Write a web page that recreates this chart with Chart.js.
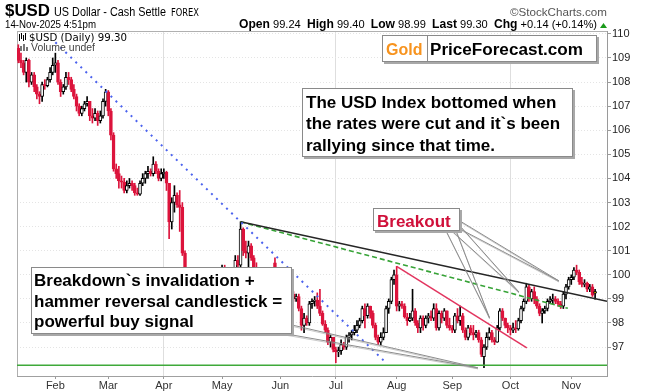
<!DOCTYPE html>
<html><head><meta charset="utf-8">
<script src="https://cdn.jsdelivr.net/npm/chart.js@4.4.1/dist/chart.umd.min.js"></script>
<style>html,body{margin:0;padding:0;background:#fff;}canvas{display:block;}</style>
</head><body>
<canvas id="c" width="646" height="392"></canvas>
<script>
// ---- categories: trading days 2025 (MM-DD) ----
const dates = [
"01-14","01-15","01-16","01-17","01-20","01-21","01-22","01-23","01-24","01-27","01-28","01-29","01-30","01-31",
"02-03","02-04","02-05","02-06","02-07","02-10","02-11","02-12","02-13","02-14","02-17","02-18","02-19","02-20","02-21","02-24","02-25","02-26","02-27","02-28",
"03-03","03-04","03-05","03-06","03-07","03-10","03-11","03-12","03-13","03-14","03-17","03-18","03-19","03-20","03-21","03-24","03-25","03-26","03-27","03-28","03-31",
"04-01","04-02","04-03","04-04","04-07","04-08","04-09","04-10","04-11","04-14","04-15","04-16","04-17","04-18","04-21","04-22","04-23","04-24","04-25","04-28","04-29","04-30",
"05-01","05-02","05-05","05-06","05-07","05-08","05-09","05-12","05-13","05-14","05-15","05-16","05-19","05-20","05-21","05-22","05-23","05-26","05-27","05-28","05-29","05-30",
"06-02","06-03","06-04","06-05","06-06","06-09","06-10","06-11","06-12","06-13","06-16","06-17","06-18","06-19","06-20","06-23","06-24","06-25","06-26","06-27","06-30",
"07-01","07-02","07-03","07-04","07-07","07-08","07-09","07-10","07-11","07-14","07-15","07-16","07-17","07-18","07-21","07-22","07-23","07-24","07-25","07-28","07-29","07-30","07-31",
"08-01","08-04","08-05","08-06","08-07","08-08","08-11","08-12","08-13","08-14","08-15","08-18","08-19","08-20","08-21","08-22","08-25","08-26","08-27","08-28","08-29",
"09-01","09-02","09-03","09-04","09-05","09-08","09-09","09-10","09-11","09-12","09-15","09-16","09-17","09-18","09-19","09-22","09-23","09-24","09-25","09-26","09-29","09-30",
"10-01","10-02","10-03","10-06","10-07","10-08","10-09","10-10","10-13","10-14","10-15","10-16","10-17","10-20","10-21","10-22","10-23","10-24","10-27","10-28","10-29","10-30","10-31",
"11-03","11-04","11-05","11-06","11-07","11-10","11-11","11-12","11-13","11-14"];

// ---- series: daily OHLC ----
const opens = [
109.40,108.90,108.80,108.40,108.90,108.00,108.30,107.80,107.50,107.40,
107.90,107.85,108.10,108.40,108.70,108.80,108.00,107.60,107.80,108.20,
108.10,107.70,107.40,107.00,106.70,106.90,107.10,107.20,106.60,106.50,
106.70,106.40,106.60,107.20,107.60,106.80,105.80,104.40,104.20,103.90,
103.85,103.50,103.70,103.80,103.70,103.40,103.35,103.80,104.00,104.20,
104.30,104.20,104.60,104.30,104.00,104.20,104.25,103.80,102.20,103.00,
103.30,102.90,102.80,100.90,100.10,99.60,100.20,99.40,99.40,99.30,
98.30,98.90,99.80,99.30,99.60,99.00,99.20,99.50,100.30,100.00,
99.80,99.30,99.90,100.60,100.40,101.90,101.00,100.90,101.20,100.70,
100.30,100.00,99.60,99.90,99.10,99.00,99.50,100.50,99.30,99.40,
98.70,99.20,98.80,98.70,99.20,99.00,99.10,98.60,97.90,98.20,
98.00,98.80,98.90,98.95,98.70,98.40,97.95,97.70,97.20,97.40,
96.90,96.80,96.85,97.10,97.00,97.40,97.50,97.60,97.70,97.90,
98.10,98.60,98.30,98.70,98.40,97.90,97.40,97.20,97.40,97.60,
98.60,98.90,99.80,100.00,98.70,98.80,98.70,98.25,98.10,98.20,
98.50,98.00,97.80,98.20,97.90,98.20,98.30,98.20,98.60,97.80,
98.40,98.20,98.50,97.90,97.80,97.70,98.30,98.10,98.30,97.70,
97.40,97.80,97.60,97.50,97.60,97.30,96.60,97.00,97.40,97.60,
97.30,97.20,97.80,98.50,98.20,97.90,97.80,97.70,97.80,97.75,
98.10,98.60,98.90,99.50,99.00,99.30,99.00,98.70,98.40,98.50,
98.60,98.90,98.95,99.00,98.90,98.80,98.70,99.20,99.50,99.80,
99.90,100.20,100.10,99.70,99.60,99.65,99.40,99.50,99.24];
const highs = [
109.55,109.20,108.90,109.00,108.95,108.40,108.40,107.90,107.60,108.00,
108.10,108.20,108.60,109.00,109.20,108.90,108.10,107.90,108.40,108.40,
108.20,107.90,107.50,107.10,107.00,107.20,107.40,107.20,106.90,106.90,
106.80,106.80,107.30,107.70,107.65,106.90,105.90,104.60,104.50,104.10,
104.00,103.90,104.00,103.90,103.80,103.60,103.90,104.20,104.30,104.50,
104.40,104.90,104.70,104.40,104.40,104.40,104.30,103.80,103.20,103.70,
103.40,103.50,103.00,101.00,100.30,100.30,100.20,99.60,99.50,99.40,
99.00,100.00,99.90,99.80,99.70,99.30,99.70,100.40,100.40,100.10,
99.90,100.00,100.80,100.80,102.20,101.95,101.40,101.40,101.30,100.80,
100.50,100.10,100.00,100.00,99.40,99.60,100.10,100.70,99.60,99.50,
99.40,99.30,99.00,99.40,99.30,99.20,99.20,98.70,98.40,98.30,
98.90,99.00,99.10,99.25,99.40,98.50,98.10,97.80,97.50,97.40,
97.00,97.00,97.30,97.20,97.50,97.60,97.70,97.90,98.10,98.20,
98.70,98.80,98.80,98.70,98.50,98.00,97.50,97.60,97.80,98.70,
99.00,99.90,100.20,100.35,98.90,98.90,98.80,98.40,98.40,99.40,
98.60,98.10,98.30,98.30,98.30,98.40,98.50,98.80,98.80,98.50,
98.50,98.60,98.50,98.20,97.90,98.40,98.60,98.70,98.40,97.80,
97.90,97.90,97.90,97.70,97.70,97.40,97.10,97.60,97.80,97.70,
97.40,97.90,98.60,98.60,98.20,98.00,97.90,98.00,98.10,98.20,
98.70,99.00,99.65,99.60,99.40,99.50,99.10,98.80,98.60,98.70,
99.00,99.10,99.20,99.10,99.00,98.90,99.30,99.60,99.90,100.00,
100.30,100.40,100.20,99.90,99.80,99.70,99.60,99.60,99.40];
const lows = [
108.80,108.60,108.30,108.00,107.80,107.90,107.60,107.30,107.10,107.20,
107.70,107.80,108.00,108.30,108.40,107.90,107.40,107.50,107.70,107.90,
107.60,107.30,106.80,106.60,106.60,106.80,107.00,106.40,106.30,106.40,
106.20,106.30,106.50,107.00,106.60,105.60,104.30,104.00,103.60,103.60,
103.40,103.40,103.60,103.50,103.30,103.30,103.30,103.70,103.80,104.00,
104.10,104.10,104.20,103.90,103.90,104.00,103.50,101.50,101.90,102.60,
102.80,101.80,100.80,99.60,99.20,99.50,99.20,99.10,99.20,97.90,
98.20,98.90,99.20,99.10,98.90,98.90,99.00,99.40,99.80,99.60,
99.20,99.20,99.80,100.20,100.30,100.80,100.70,100.30,100.60,100.10,
99.80,99.40,99.30,99.00,98.90,98.90,99.40,99.20,99.10,98.60,
98.60,98.70,98.40,98.60,98.90,98.90,98.50,97.70,97.60,97.90,
97.90,98.60,98.70,98.60,98.30,97.90,97.60,97.10,97.00,96.80,
96.35,96.60,96.70,96.90,96.90,97.20,97.30,97.50,97.60,97.80,
98.00,97.80,98.20,98.20,97.80,97.30,97.10,97.10,97.30,97.60,
98.40,98.80,99.60,98.50,98.50,98.60,98.20,97.90,98.05,98.10,
97.90,97.60,97.60,97.70,97.80,98.00,98.10,98.10,97.70,97.70,
98.00,98.10,97.80,97.70,97.60,97.60,98.00,97.90,97.60,97.30,
97.30,97.50,97.30,97.40,97.20,96.60,96.15,96.90,97.30,97.20,
97.10,97.20,97.70,98.10,97.80,97.60,97.50,97.60,97.60,97.70,
98.00,98.50,98.80,98.90,98.90,98.80,98.60,98.30,98.00,98.40,
98.50,98.80,98.80,98.80,98.70,98.60,98.60,99.00,99.40,99.60,
99.80,100.00,99.60,99.50,99.50,99.30,99.30,99.10,98.99];
const closes = [
108.90,108.80,108.40,108.90,108.00,108.30,107.80,107.50,107.40,107.90,
107.85,108.10,108.40,108.70,108.80,108.00,107.60,107.80,108.20,108.10,
107.70,107.40,107.00,106.70,106.90,107.10,107.20,106.60,106.50,106.70,
106.40,106.60,107.20,107.60,106.80,105.80,104.40,104.20,103.90,103.85,
103.50,103.70,103.80,103.70,103.40,103.35,103.80,104.00,104.20,104.30,
104.20,104.60,104.30,104.00,104.20,104.25,103.80,102.20,103.00,103.30,
102.90,102.80,100.90,100.10,99.60,100.20,99.40,99.40,99.30,98.30,
98.90,99.80,99.30,99.60,99.00,99.20,99.50,100.30,100.00,99.80,
99.30,99.90,100.60,100.40,101.90,101.00,100.90,101.20,100.70,100.30,
100.00,99.60,99.90,99.10,99.00,99.50,99.90,99.30,99.40,98.70,
99.20,98.80,98.70,99.20,99.00,99.10,98.60,97.90,98.20,98.00,
98.80,98.90,98.95,98.70,98.40,97.95,97.70,97.20,97.40,96.90,
96.80,96.85,97.10,97.00,97.40,97.50,97.60,97.70,97.90,98.10,
98.60,98.30,98.70,98.40,97.90,97.40,97.20,97.40,97.60,98.60,
98.90,99.80,100.00,98.70,98.80,98.70,98.25,98.10,98.20,98.50,
98.00,97.80,98.20,97.90,98.20,98.30,98.20,98.60,97.80,98.40,
98.20,98.50,97.90,97.80,97.70,98.30,98.10,98.30,97.70,97.40,
97.80,97.60,97.50,97.60,97.30,96.70,97.00,97.40,97.60,97.30,
97.20,97.80,98.50,98.20,97.90,97.80,97.70,97.80,97.75,98.10,
98.60,98.90,99.50,99.00,99.30,99.00,98.70,98.40,98.50,98.60,
98.90,98.95,99.00,98.90,98.80,98.70,99.20,99.50,99.80,99.90,
100.20,100.10,99.70,99.60,99.65,99.40,99.50,99.16,99.30];

// ---- tick labels ----
const monthTickLabels = ["Feb","Mar","Apr","May","Jun","Jul","Aug","Sep","Oct","Nov"];
const monthTickNums   = ["02","03","04","05","06","07","08","09","10","11"];
const gridMonths = ["Apr","Jul","Oct"];
const yTickValues = [97,98,99,100,101,102,103,104,105,106,107,108,109,110];

// ---- drawn trend lines (x = trading-day index, y = index value) ----
const blueTrendX  = [14, 138.2],   blueTrendY  = [109.65, 96.43];
const blackTrendX = [84, 222.5],   blackTrendY = [102.2, 98.9];
const greenTrendX = [84, 207.7],   greenTrendY = [102.2, 98.61];
const redTrendX   = [143, 192.2],  redTrendY   = [100.35, 96.97];
const supportX    = [-0.5, 222.5], supportY    = [96.25, 96.25];

// callout targets (index, value)
const breakdownTarget = [173.7, 96.14];
const breakoutTargets = [[178.1, 98.22], [189.2, 99.29], [204.3, 99.75]];

const monthTickIdx = monthTickNums.map(m => dates.findIndex(d => d.slice(0,2) === m));
const N = dates.length;
const RED = '#dc143c', BLK = '#000000';
const lineColors = closes.map((c, i) => (i === 0 ? c >= opens[i] : c >= closes[i-1]) ? BLK : RED);
const fillColors = closes.map((c, i) => {
  if (i === N - 1) return '#ffe600';
  return c > opens[i] ? '#ffffff' : lineColors[i];
});

const FONT = "'Liberation Sans', Arial, sans-serif";
Chart.defaults.font.family = FONT;

const mk = (xs, ys) => xs.map((x, k) => ({x, y: ys[k]}));

function fitText(ctx, s, x, y, font, color, w, align) {
  ctx.save(); ctx.font = font; ctx.fillStyle = color; ctx.textBaseline = 'alphabetic';
  const nat = ctx.measureText(s).width;
  const k = w ? w / nat : 1;
  const x0 = align === 'right' ? x - (w || nat) : x;
  ctx.translate(x0, y); ctx.scale(k, 1); ctx.textAlign = 'left';
  ctx.fillText(s, 0, 0); ctx.restore();
}
function rich(ctx, segs, x, y, w) {
  ctx.save(); let tot = 0;
  segs.forEach(s => { ctx.font = s[1]; tot += ctx.measureText(s[0]).width; });
  const k = w ? w / tot : 1;
  ctx.translate(x, y); ctx.scale(k, 1); ctx.textBaseline = 'alphabetic'; ctx.textAlign = 'left';
  let cx = 0;
  segs.forEach(s => { ctx.font = s[1]; ctx.fillStyle = s[2]; ctx.fillText(s[0], cx, 0); cx += ctx.measureText(s[0]).width; });
  ctx.restore();
}
function box(ctx, x, y, w, h) {
  ctx.save();
  ctx.fillStyle = '#a8a8a8'; ctx.fillRect(x + 2, y + 2, w, h);
  ctx.fillStyle = '#ffffff'; ctx.fillRect(x, y, w, h);
  ctx.strokeStyle = '#8a8a8a'; ctx.lineWidth = 1; ctx.strokeRect(x + 0.5, y + 0.5, w - 1, h - 1);
  ctx.restore();
}
function wedge(ctx, b1, b2, tip) {
  ctx.save();
  ctx.strokeStyle = '#8c8c8c'; ctx.lineWidth = 1;
  ctx.beginPath(); ctx.moveTo(b1[0], b1[1]); ctx.lineTo(tip[0], tip[1]); ctx.lineTo(b2[0], b2[1]); ctx.stroke();
  ctx.strokeStyle = 'rgba(140,140,140,0.45)';
  ctx.beginPath(); ctx.moveTo(b1[0] + 1, b1[1] + 1.5); ctx.lineTo(tip[0], tip[1] + 1); ctx.lineTo(b2[0] + 1, b2[1] + 1.5); ctx.stroke();
  ctx.restore();
}

const headerPlugin = {
  id: 'header',
  beforeDatasetsDraw(chart) {
    const ctx = chart.ctx, a = chart.chartArea;
    ctx.save(); ctx.strokeStyle = '#b0b0b0'; ctx.lineWidth = 1;
    ctx.beginPath(); ctx.moveTo(a.left + 0.5, a.top); ctx.lineTo(a.left + 0.5, a.bottom);
    ctx.moveTo(a.left, a.top + 0.5); ctx.lineTo(a.right, a.top + 0.5); ctx.stroke(); ctx.restore();
  },
  afterDraw(chart) {
    const ctx = chart.ctx;
    const last = N - 1;
    const chg = closes[last] - closes[last - 1];
    const pct = chg / closes[last - 1] * 100;
    const sg = v => (v >= 0 ? '+' : '') + v.toFixed(2);
    fitText(ctx, '$USD', 5, 16, 'bold 17px ' + FONT, '#000', 45);
    fitText(ctx, 'US Dollar - Cash Settle', 54, 16, '12px ' + FONT, '#000', 112);
    fitText(ctx, 'FOREX', 171, 16, '10px "DejaVu Sans"', '#000', 28);
    fitText(ctx, '\u00A9StockCharts.com', 607, 16, '11px ' + FONT, '#555', 97, 'right');
    fitText(ctx, '14-Nov-2025 4:51pm', 5, 28, '11px ' + FONT, '#000', 91);
    const B = 'bold 12px ' + FONT, R = '11px ' + FONT;
    rich(ctx, [['Open', B, '#000'], [' ' + opens[last].toFixed(2) + '  ', R, '#000'],
               ['High', B, '#000'], [' ' + highs[last].toFixed(2) + '  ', R, '#000'],
               ['Low', B, '#000'], [' ' + lows[last].toFixed(2) + '  ', R, '#000'],
               ['Last', B, '#000'], [' ' + closes[last].toFixed(2) + '  ', R, '#000'],
               ['Chg', B, '#000'], [' ' + sg(chg) + ' (' + sg(pct) + '%)', R, '#000']], 239, 28, 358);
    ctx.save(); ctx.fillStyle = '#1a9a1a'; ctx.beginPath();
    ctx.moveTo(600, 28); ctx.lineTo(607, 28); ctx.lineTo(603.5, 23); ctx.closePath(); ctx.fill(); ctx.restore();
  }
};

const annPlugin = {
  id: 'ann',
  afterDatasetsDraw(chart) {
    const ctx = chart.ctx, xs = chart.scales.x, ys = chart.scales.y;
    const P = (i, v) => [xs.getPixelForValue(i), ys.getPixelForValue(v)];
    // legend in plot
    ctx.save();
    ctx.fillStyle = '#000';
    ctx.fillRect(19, 34, 1, 7); ctx.fillRect(21, 33, 1, 6); ctx.fillRect(23, 35, 1, 6); ctx.fillRect(25, 33, 1, 7);
    ctx.fillStyle = '#777';
    ctx.fillRect(20, 46, 2, 5); ctx.fillRect(23, 44, 2, 7); ctx.fillRect(26, 47, 2, 4);
    ctx.restore();
    fitText(ctx, '$USD (Daily) ' + closes[N - 1].toFixed(2), 29, 41, '11px "DejaVu Sans"', '#000', 98);
    fitText(ctx, 'Volume undef', 31, 51, '10.5px ' + FONT, '#444', 64);

    // callout pointers
    wedge(ctx, [292, 325], [281, 333], P(breakdownTarget[0], breakdownTarget[1]));
    const bt = breakoutTargets.map(t => P(t[0], t[1]));
    wedge(ctx, [446, 231], [456, 231], bt[0]);
    wedge(ctx, [452, 231], [460, 226], bt[1]);
    wedge(ctx, [460, 221], [460, 229], bt[2]);

    // boxes
    box(ctx, 382, 35, 215, 27);
    ctx.save(); ctx.strokeStyle = '#8a8a8a'; ctx.beginPath(); ctx.moveTo(427.5, 35); ctx.lineTo(427.5, 62); ctx.stroke(); ctx.restore();
    fitText(ctx, 'Gold', 386, 55, 'bold 16px ' + FONT, '#f7931e');
    fitText(ctx, 'PriceForecast.com', 430, 55, 'bold 16px ' + FONT, '#000', 153);

    box(ctx, 302, 88, 271, 69);
    const F = 'bold 17px ' + FONT;
    fitText(ctx, 'The USD Index bottomed when', 306, 107.5, F, '#000');
    fitText(ctx, 'the rates were cut and it`s been', 306, 129, F, '#000');
    fitText(ctx, 'rallying since that time.', 306, 150.5, F, '#000');

    box(ctx, 31, 267, 261, 67);
    fitText(ctx, 'Breakdown`s invalidation +', 34, 285.5, F, '#000');
    fitText(ctx, 'hammer reversal candlestick =', 34, 306.5, F, '#000');
    fitText(ctx, 'powerful buy signal', 34, 327, F, '#000');

    box(ctx, 373, 208, 87, 23);
    fitText(ctx, 'Breakout', 377, 227, F, '#d0103a');
  }
};

new Chart(document.getElementById('c'), {
  type: 'bar',
  data: {
    datasets: [
      { type: 'line', data: mk(blueTrendX, blueTrendY), borderColor: '#4c63ee', borderWidth: 2, borderDash: [2, 5], pointRadius: 0, fill: false, order: 0 },
      { type: 'line', data: mk(blackTrendX, blackTrendY), borderColor: '#262626', borderWidth: 1.5, pointRadius: 0, fill: false, order: 0 },
      { type: 'line', data: mk(greenTrendX, greenTrendY), borderColor: '#37a337', borderWidth: 1.6, borderDash: [5, 3], pointRadius: 0, fill: false, order: 0 },
      { type: 'line', data: mk(redTrendX, redTrendY), borderColor: '#e2355f', borderWidth: 1.5, pointRadius: 0, fill: false, order: 0 },
      { type: 'line', data: mk(supportX, supportY), borderColor: '#3fa93a', borderWidth: 1.5, pointRadius: 0, fill: false, order: 0 },
      { type: 'bar', label: 'body', data: dates.map((d, i) => ({x: i, y: [opens[i], closes[i]]})),
        backgroundColor: fillColors, borderColor: lineColors, borderWidth: 1, borderSkipped: false,
        barThickness: 3, minBarLength: 1, grouped: false, order: 1 },
      { type: 'bar', label: 'wick', data: dates.map((d, i) => ({x: i, y: [lows[i], highs[i]]})),
        backgroundColor: lineColors, barThickness: 1, grouped: false, order: 2 }
    ]
  },
  options: {
    responsive: false, animation: false, devicePixelRatio: 1,
    layout: { padding: { left: 17, top: 31, right: 0, bottom: 0 } },
    plugins: { legend: { display: false }, tooltip: { enabled: false } },
    scales: {
      x: {
        type: 'linear', min: -0.5, max: N + 3.5, offset: false,
        afterBuildTicks: s => { s.ticks = monthTickIdx.map(v => ({ value: v })); },
        afterFit: s => { s.height = 16; },
        ticks: { autoSkip: false, maxRotation: 0, padding: 0, color: '#333', font: { size: 11 },
                 callback: v => { const k = monthTickIdx.indexOf(v); return k >= 0 ? monthTickLabels[k] : ''; } },
        grid: { offset: false, tickLength: 3, tickColor: '#999',
                color: c => (c.tick && gridMonths.includes(monthTickLabels[monthTickIdx.indexOf(c.tick.value)])) ? '#dedede' : 'rgba(0,0,0,0)' },
        border: { color: '#a0a0a0' }
      },
      y: {
        position: 'right', min: 95.8, max: 110.12,
        afterBuildTicks: s => { s.ticks = yTickValues.map(v => ({ value: v })); },
        afterFit: s => { s.width = 39; },
        ticks: { padding: 1, color: '#222', font: { size: 11 } },
        grid: { color: '#e4e4e4', tickLength: 4, tickColor: '#999' },
        border: { color: '#9a9a9a', dash: [1, 2] }
      }
    }
  },
  plugins: [headerPlugin, annPlugin]
});
</script>
</body></html>
